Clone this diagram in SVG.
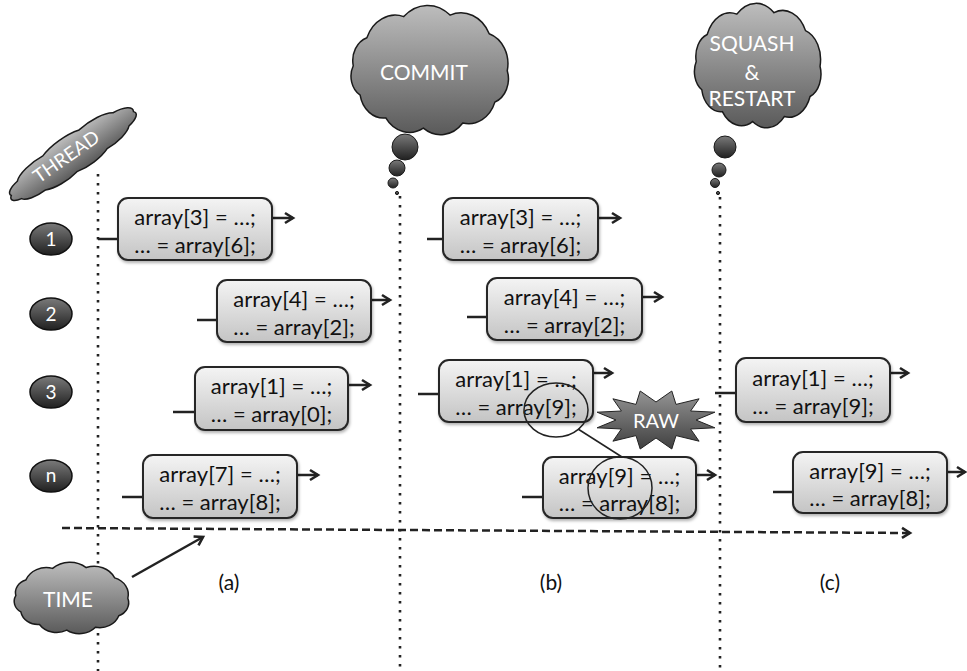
<svg xmlns="http://www.w3.org/2000/svg" width="967" height="671" viewBox="0 0 967 671">
<style>
.box{fill:url(#gBox);stroke:#262626;stroke-width:2;filter:url(#sh)}
.bt{font-family:Lato,"Liberation Sans",sans-serif;font-size:22px;fill:#111;text-anchor:middle}
.wt{font-family:Lato,"Liberation Sans",sans-serif;fill:#fff;text-anchor:middle}
.lbl{font-family:Lato,"Liberation Sans",sans-serif;font-size:21px;fill:#111;text-anchor:middle}
.cloud{fill:url(#gCloud);stroke:#1a1a1a;stroke-width:1.5}
.bub{fill:url(#gDark);stroke:#1a1a1a;stroke-width:1}
.tl{fill:url(#gDark);stroke:#111;stroke-width:1.5}
.dot{stroke:#222;stroke-width:2.6;stroke-dasharray:2.6 6.4;fill:none}
.arr{stroke:#222;stroke-width:2.5;fill:none;marker-end:url(#ah)}
.lead{stroke:#222;stroke-width:2.5;fill:none}
.hl{fill:none;stroke:#222;stroke-width:1.5}
</style>
<defs>
<linearGradient id="gBox" x1="0" y1="0" x2="0" y2="1"><stop offset="0" stop-color="#f4f4f4"/><stop offset="1" stop-color="#c4c4c4"/></linearGradient>
<linearGradient id="gCloud" x1="0" y1="0" x2="0" y2="1"><stop offset="0" stop-color="#bdbdbd"/><stop offset="1" stop-color="#5a5a5a"/></linearGradient>
<linearGradient id="gDark" x1="0" y1="0" x2="0" y2="1"><stop offset="0" stop-color="#7a7a7a"/><stop offset="1" stop-color="#202020"/></linearGradient>
<linearGradient id="gRaw" x1="0" y1="0" x2="0" y2="1"><stop offset="0" stop-color="#949494"/><stop offset="1" stop-color="#404040"/></linearGradient>
<filter id="sh" x="-10%" y="-10%" width="130%" height="140%"><feDropShadow dx="1" dy="2" stdDeviation="1.5" flood-color="#000" flood-opacity="0.3"/></filter>
<marker id="ah" markerUnits="userSpaceOnUse" markerWidth="14" markerHeight="14" viewBox="0 0 14 14" refX="11" refY="7" orient="auto"><path d="M3,2 L11,7 L3,12" fill="none" stroke="#222" stroke-width="2.6"/></marker>
<path id="cloud" vector-effect="non-scaling-stroke" d="M194,66 A26,26 0 0 1 178.9,98.7 A34,34 0 0 1 139.8,120.4 A36,36 0 0 1 91.8,125.8 A35,35 0 0 1 46,115.1 A29,29 0 0 1 14.8,91.4 A23,23 0 0 1 6.4,60.8 A25,25 0 0 1 23,31.6 A37,37 0 0 1 67.9,9.6 A42,42 0 0 1 124.3,8 A38,38 0 0 1 172,27.4 A33,33 0 0 1 194,66 Z"/>
</defs>
<rect width="967" height="671" fill="#fff"/>

<g id="connectors">
<line class="dot" x1="98" y1="174" x2="98" y2="671"/>
<line class="dot" x1="400" y1="196" x2="400" y2="671"/>
<line class="dot" x1="720" y1="197" x2="720" y2="671"/>
<line x1="62" y1="528" x2="910" y2="533" stroke="#222" stroke-width="2.5" stroke-dasharray="8 4" marker-end="url(#ah)"/>
<line class="arr" x1="132" y1="577" x2="203" y2="537"/>
<line class="lead" x1="98" y1="239" x2="118" y2="239"/>
<line class="lead" x1="197" y1="320" x2="217" y2="320"/>
<line class="lead" x1="173" y1="412" x2="195" y2="412"/>
<line class="lead" x1="122" y1="497" x2="143" y2="497"/>
<line class="lead" x1="427" y1="239" x2="443" y2="239"/>
<line class="lead" x1="467" y1="317" x2="487" y2="317"/>
<line class="lead" x1="418" y1="394" x2="439" y2="394"/>
<line class="lead" x1="522" y1="497" x2="543" y2="497"/>
<line class="lead" x1="715" y1="393" x2="736" y2="393"/>
<line class="lead" x1="773" y1="492" x2="793" y2="492"/>
<line class="arr" x1="272" y1="218" x2="293" y2="218"/>
<line class="arr" x1="371" y1="300" x2="390" y2="300"/>
<line class="arr" x1="348" y1="385" x2="370" y2="385"/>
<line class="arr" x1="297" y1="475" x2="318" y2="475"/>
<line class="arr" x1="598" y1="218" x2="620" y2="218"/>
<line class="arr" x1="642" y1="297" x2="662" y2="297"/>
<line class="arr" x1="593" y1="373" x2="612" y2="373"/>
<line class="arr" x1="696" y1="475" x2="715" y2="475"/>
<line class="arr" x1="890" y1="373" x2="908" y2="373"/>
<line class="arr" x1="947" y1="472" x2="965" y2="472"/>
</g>

<g id="thread">
<use href="#cloud" class="cloud" transform="translate(73,154) rotate(-35) scale(0.79,0.28) translate(-100.5,-66)"/>
<text class="wt" font-size="19" transform="translate(70,162) rotate(-35)">THREAD</text>
</g>
<g id="t1"><ellipse class="tl" cx="51" cy="239" rx="21" ry="16"/><text class="wt" font-size="19" x="51" y="246">1</text></g>
<g id="t2"><ellipse class="tl" cx="51" cy="314" rx="21" ry="16"/><text class="wt" font-size="19" x="51" y="321">2</text></g>
<g id="t3"><ellipse class="tl" cx="51" cy="392" rx="21" ry="16"/><text class="wt" font-size="19" x="51" y="399">3</text></g>
<g id="tn"><ellipse class="tl" cx="51" cy="476" rx="21" ry="16"/><text class="wt" font-size="19" x="51" y="482">n</text></g>

<g id="commit">
<use href="#cloud" class="cloud" transform="translate(348,7.4) scale(0.821,0.96)"/>
<circle class="bub" cx="405" cy="147" r="13"/>
<circle class="bub" cx="397" cy="168" r="8"/>
<circle class="bub" cx="393" cy="183" r="5"/>
<circle class="bub" cx="397" cy="193" r="1.6"/>
<text class="wt" font-size="21" x="424" y="80">COMMIT</text>
</g>

<g id="squash">
<use href="#cloud" class="cloud" transform="translate(692,5.3) scale(0.66,0.924)"/>
<circle class="bub" cx="725" cy="147" r="11"/>
<circle class="bub" cx="719" cy="170" r="7"/>
<circle class="bub" cx="715" cy="183" r="4.5"/>
<circle class="bub" cx="718" cy="193" r="1.6"/>
<text class="wt" font-size="21" x="752" y="51">SQUASH</text>
<text class="wt" font-size="21" x="752" y="80">&amp;</text>
<text class="wt" font-size="21" x="752" y="106">RESTART</text>
</g>

<g id="time">
<use href="#cloud" class="cloud" transform="translate(12,563.3) scale(0.597,0.531)"/>
<text class="wt" font-size="21" x="68" y="607">TIME</text>
</g>

<g id="a1"><rect class="box" x="118" y="198" width="154" height="62" rx="10"/><text class="bt" x="195" y="225">array[3] = …;</text><text class="bt" x="195" y="253">… = array[6];</text></g>
<g id="a2"><rect class="box" x="217" y="280" width="154" height="62" rx="10"/><text class="bt" x="294" y="307">array[4] = …;</text><text class="bt" x="294" y="335">… = array[2];</text></g>
<g id="a3"><rect class="box" x="195" y="367" width="153" height="63" rx="10"/><text class="bt" x="271.5" y="394">array[1] = …;</text><text class="bt" x="271.5" y="422">… = array[0];</text></g>
<g id="an"><rect class="box" x="143" y="455" width="154" height="63" rx="10"/><text class="bt" x="220" y="482">array[7] = …;</text><text class="bt" x="220" y="510">… = array[8];</text></g>

<g id="b1"><rect class="box" x="443" y="198" width="155" height="62" rx="10"/><text class="bt" x="520.5" y="225">array[3] = …;</text><text class="bt" x="520.5" y="253">… = array[6];</text></g>
<g id="b2"><rect class="box" x="487" y="278" width="155" height="62" rx="10"/><text class="bt" x="564.5" y="305">array[4] = …;</text><text class="bt" x="564.5" y="333">… = array[2];</text></g>
<g id="b3"><rect class="box" x="439" y="360" width="154" height="62" rx="10"/><text class="bt" x="516" y="387">array[1] = …;</text><text class="bt" x="516" y="415">… = array[9];</text></g>
<g id="bn"><rect class="box" x="543" y="457" width="153" height="61" rx="10"/><text class="bt" x="619.5" y="484">array[9] = …;</text><text class="bt" x="619.5" y="511">… = array[8];</text></g>

<g id="raw">
<polygon fill="url(#gRaw)" stroke="#222" stroke-width="1" points="696,420 714.9,427.8 690.6,429 699.1,441.2 676,435.6 671.8,449 656,438 640.2,449 636,435.6 612.9,441.2 621.4,429 597.1,427.8 616,420 597.1,412.2 621.4,411 612.9,398.8 636,404.4 640.2,391 656,402 671.8,391 676,404.4 699.1,398.8 690.6,411 714.9,412.2"/>
<text class="wt" font-size="20" x="656" y="428">RAW</text>
</g>
<g id="raw-link">
<ellipse class="hl" cx="556" cy="410" rx="32" ry="27"/>
<ellipse class="hl" cx="620" cy="488" rx="32" ry="31"/>
<line class="hl" x1="578" y1="429" x2="622" y2="457" stroke-width="2"/>
</g>

<g id="c3"><rect class="box" x="736" y="358" width="154" height="64" rx="10"/><text class="bt" x="813" y="386">array[1] = …;</text><text class="bt" x="813" y="414">… = array[9];</text></g>
<g id="cn"><rect class="box" x="793" y="452" width="154" height="61" rx="10"/><text class="bt" x="870" y="479">array[9] = …;</text><text class="bt" x="870" y="506">… = array[8];</text></g>

<g id="labels">
<text class="lbl" x="229" y="590">(a)</text>
<text class="lbl" x="551" y="590">(b)</text>
<text class="lbl" x="830" y="590">(c)</text>
</g>
</svg>
